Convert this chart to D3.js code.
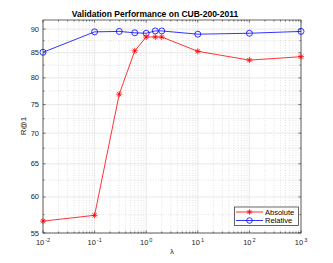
<!DOCTYPE html>
<html>
<head>
<meta charset="utf-8">
<script src="https://cdn.jsdelivr.net/npm/d3@7"></script>
<style>
  body { margin: 0; background: #fff; }
  text { font-family: "Liberation Sans", Arial, sans-serif; fill: #262626; }
</style>
</head>
<body>
<svg id="chart" width="333" height="263"></svg>
<script>
// lambda values and R@1 for both losses
const lambdas = [0.01, 0.1, 0.3, 0.6, 1, 1.5, 2, 10, 100, 1000];
const absolute = [56.6, 57.4, 76.9, 85.4, 88.3, 88.3, 88.3, 85.3, 83.5, 84.2];
const relative = [85.1, 89.4, 89.5, 89.2, 89.1, 89.6, 89.6, 88.9, 89.1, 89.5];
const yTicks = [55, 60, 65, 70, 75, 80, 85, 90];
const xTicks = [-2, -1, 0, 1, 2, 3];

const svg = d3.select('#chart');
const pLeft = 43, pRight = 301, pTop = 20, pBottom = 233;

const x = d3.scaleLog().domain([0.01, 1000]).range([pLeft, pRight]);
const y = d3.scaleLog().domain([55, 92]).range([pBottom, pTop]);

// minor values
let xMinor = [];
for (let e = -2; e < 3; e++) {
    for (let m = 2; m <= 9; m++) xMinor.push(m * Math.pow(10, e));
}
let yMinor = yTicks.map(d => d + 2.5).filter(d => d < 92);

let grid = svg.append('g');
// minor grid, dotted
grid.selectAll('.xm').data(xMinor).enter().append('line')
    .attr('x1', d => x(d)).attr('x2', d => x(d))
    .attr('y1', pTop).attr('y2', pBottom)
    .attr('stroke', '#cfcfcf').attr('stroke-width', 0.6).attr('stroke-dasharray', '1,1.5');
grid.selectAll('.ym').data(yMinor).enter().append('line')
    .attr('x1', pLeft).attr('x2', pRight)
    .attr('y1', d => y(d)).attr('y2', d => y(d))
    .attr('stroke', '#cfcfcf').attr('stroke-width', 0.6).attr('stroke-dasharray', '1,1.5');
// major grid
grid.selectAll('.xg').data(xTicks).enter().append('line')
    .attr('x1', d => x(Math.pow(10, d))).attr('x2', d => x(Math.pow(10, d)))
    .attr('y1', pTop).attr('y2', pBottom)
    .attr('stroke', '#e2e2e2').attr('stroke-width', 0.8);
grid.selectAll('.yg').data(yTicks).enter().append('line')
    .attr('x1', pLeft).attr('x2', pRight)
    .attr('y1', d => y(d)).attr('y2', d => y(d))
    .attr('stroke', '#e2e2e2').attr('stroke-width', 0.8);

// tick marks, inward, on all four sides
let ticks = svg.append('g').attr('stroke', '#262626').attr('stroke-width', 0.6);
xTicks.forEach(d => {
    let px = x(Math.pow(10, d));
    ticks.append('line').attr('x1', px).attr('x2', px).attr('y1', pBottom).attr('y2', pBottom - 2.6);
    ticks.append('line').attr('x1', px).attr('x2', px).attr('y1', pTop).attr('y2', pTop + 2.6);
});
xMinor.forEach(d => {
    let px = x(d);
    ticks.append('line').attr('x1', px).attr('x2', px).attr('y1', pBottom).attr('y2', pBottom - 1.5);
    ticks.append('line').attr('x1', px).attr('x2', px).attr('y1', pTop).attr('y2', pTop + 1.5);
});
yTicks.forEach(d => {
    ticks.append('line').attr('x1', pLeft).attr('x2', pLeft + 2.6).attr('y1', y(d)).attr('y2', y(d));
    ticks.append('line').attr('x1', pRight).attr('x2', pRight - 2.6).attr('y1', y(d)).attr('y2', y(d));
});
yMinor.forEach(d => {
    ticks.append('line').attr('x1', pLeft).attr('x2', pLeft + 1.5).attr('y1', y(d)).attr('y2', y(d));
    ticks.append('line').attr('x1', pRight).attr('x2', pRight - 1.5).attr('y1', y(d)).attr('y2', y(d));
});

// box
svg.append('rect').attr('x', pLeft).attr('y', pTop)
    .attr('width', pRight - pLeft).attr('height', pBottom - pTop)
    .attr('fill', 'none').attr('stroke', '#262626').attr('stroke-width', 0.7);

// tick labels
svg.selectAll('.yl').data(yTicks).enter().append('text')
    .attr('x', pLeft - 4).attr('y', d => y(d) + 2.5)
    .attr('text-anchor', 'end').attr('font-size', 7.5)
    .text(d => d);

let xl = svg.selectAll('.xl').data(xTicks).enter().append('text')
    .attr('x', d => x(Math.pow(10, d)))
    .attr('y', 245)
    .attr('text-anchor', 'middle').attr('font-size', 7.5);
xl.append('tspan').text('10');
xl.append('tspan').attr('dy', -3.5).attr('font-size', 5.5).attr('dx', 1).text(d => d < 0 ? '-' + (-d) : d);

// axis titles
svg.append('text').attr('x', 172).attr('y', 254)
    .attr('text-anchor', 'middle').attr('font-size', 8).text('λ');
svg.append('text').attr('transform', 'translate(26,126) rotate(-90)')
    .attr('text-anchor', 'middle').attr('font-size', 8).text('R@1');
svg.append('text').attr('x', 155).attr('y', 16.5)
    .attr('text-anchor', 'middle').attr('font-size', 8.5).attr('font-weight', 'bold')
    .style('fill', '#000').text('Validation Performance on CUB-200-2011');

// markers
function star(g, cx, cy, r, color) {
    let d = '';
    for (let a = 0; a < 4; a++) {
        let ang = a * Math.PI / 4;
        let dx = r * Math.cos(ang), dy = r * Math.sin(ang);
        d += `M${cx - dx},${cy - dy}L${cx + dx},${cy + dy}`;
    }
    g.append('path').attr('d', d).attr('stroke', color).attr('stroke-width', 0.8).attr('fill', 'none');
}

let line = d3.line().x(d => x(d[0])).y(d => y(d[1]));

let absData = lambdas.map((l, i) => [l, absolute[i]]);
let relData = lambdas.map((l, i) => [l, relative[i]]);

svg.append('path').datum(relData).attr('d', line)
    .attr('fill', 'none').attr('stroke', '#0000ff').attr('stroke-width', 0.8);
svg.append('g').selectAll('circle').data(relData).enter().append('circle')
    .attr('cx', d => x(d[0])).attr('cy', d => y(d[1])).attr('r', 3)
    .attr('fill', 'none').attr('stroke', '#0000ff').attr('stroke-width', 0.8);

svg.append('path').datum(absData).attr('d', line)
    .attr('fill', 'none').attr('stroke', '#ff0000').attr('stroke-width', 0.8);
let sg = svg.append('g');
absData.forEach(d => star(sg, x(d[0]), y(d[1]), 3, '#ff0000'));

// legend
let lg = svg.append('g');
lg.append('rect').attr('x', 234.5).attr('y', 207).attr('width', 64).attr('height', 18.5)
    .attr('fill', '#fff').attr('stroke', '#262626').attr('stroke-width', 0.7);
let entries = [['Absolute', '#ff0000', 'star'], ['Relative', '#0000ff', 'circle']];
entries.forEach((e, i) => {
    let ly = 212 + i * 8.5;
    lg.append('line').attr('x1', 236).attr('x2', 263).attr('y1', ly).attr('y2', ly)
        .attr('stroke', e[1]).attr('stroke-width', 0.8);
    if (e[2] === 'star') star(lg, 249.5, ly, 2.8, e[1]);
    else lg.append('circle').attr('cx', 249.5).attr('cy', ly).attr('r', 2.8)
        .attr('fill', 'none').attr('stroke', e[1]).attr('stroke-width', 0.8);
    lg.append('text').attr('x', 265).attr('y', ly + 2.5).attr('font-size', 7.5).style('fill', '#000').text(e[0]);
});
</script>
</body>
</html>
